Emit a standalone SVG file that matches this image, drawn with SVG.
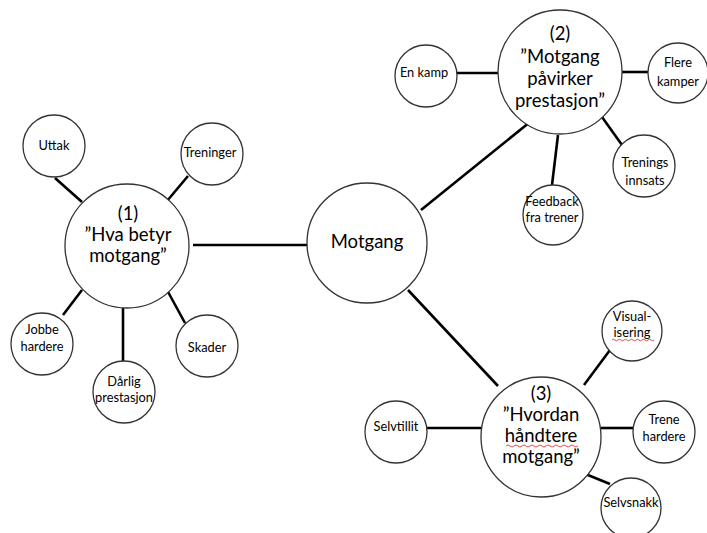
<svg xmlns="http://www.w3.org/2000/svg" width="707" height="533" viewBox="0 0 707 533">
<style>
.c{fill:#fff;stroke:#333;stroke-width:1.3}
.t{font-family:Lato,"Open Sans","Liberation Sans",sans-serif;fill:#000;text-anchor:middle}
.s{font-size:12.8px}
.h{font-size:18.5px}
.e{stroke:#000;stroke-width:2.6;fill:none}
.w{stroke:#d22;stroke-width:0.8;fill:none}
</style>
<rect width="707" height="533" fill="#fff"/>
<g id="connectors">
<line class="e" x1="193" y1="245" x2="307" y2="245"/>
<line class="e" x1="55" y1="178" x2="82" y2="202"/>
<line class="e" x1="188" y1="176" x2="167" y2="201"/>
<line class="e" x1="82" y1="290" x2="63" y2="315"/>
<line class="e" x1="123" y1="308" x2="123" y2="362"/>
<line class="e" x1="167" y1="290" x2="185" y2="323"/>
<line class="e" x1="421" y1="210" x2="530" y2="122"/>
<line class="e" x1="457" y1="73" x2="498" y2="73"/>
<line class="e" x1="622" y1="72" x2="648" y2="72"/>
<line class="e" x1="558" y1="135" x2="552" y2="185"/>
<line class="e" x1="602" y1="117" x2="627" y2="152"/>
<line class="e" x1="408" y1="290" x2="498" y2="386"/>
<line class="e" x1="584" y1="385" x2="610" y2="350"/>
<line class="e" x1="427" y1="428" x2="481" y2="428"/>
<line class="e" x1="601" y1="428" x2="633" y2="428"/>
<line class="e" x1="583" y1="473" x2="610" y2="484"/>
</g>
<g id="motgang">
<circle class="c" cx="367" cy="243" r="60"/>
<text class="t h" x="367" y="248">Motgang</text>
</g>
<g id="hub1">
<circle class="c" cx="127" cy="246" r="62"/>
<text class="t h"><tspan x="128" y="220">(1)</tspan><tspan x="128" y="241">”Hva betyr</tspan><tspan x="128" y="262">motgang”</tspan></text>
</g>
<g id="uttak">
<circle class="c" cx="54" cy="146" r="31"/>
<text class="t s" x="54" y="150">Uttak</text>
</g>
<g id="treninger">
<circle class="c" cx="212" cy="154" r="31"/>
<text class="t s" x="210" y="157">Treninger</text>
</g>
<g id="jobbe">
<circle class="c" cx="42" cy="344" r="31"/>
<text class="t s"><tspan x="42" y="334">Jobbe</tspan><tspan x="42" y="351">hardere</tspan></text>
</g>
<g id="darlig">
<circle class="c" cx="124" cy="392" r="31"/>
<text class="t s"><tspan x="124" y="386">Dårlig</tspan><tspan x="124" y="402">prestasjon</tspan></text>
</g>
<g id="skader">
<circle class="c" cx="207" cy="346" r="31"/>
<text class="t s" x="207" y="352">Skader</text>
</g>
<g id="hub2">
<circle class="c" cx="560" cy="72" r="62"/>
<text class="t h"><tspan x="560" y="40">(2)</tspan><tspan x="560" y="63">”Motgang</tspan><tspan x="560" y="85">påvirker</tspan><tspan x="560" y="107">prestasjon”</tspan></text>
</g>
<g id="enkamp">
<circle class="c" cx="426" cy="76" r="31"/>
<text class="t s" x="424" y="77">En kamp</text>
</g>
<g id="flere">
<circle class="c" cx="678" cy="73" r="30"/>
<text class="t s"><tspan x="678" y="67">Flere</tspan><tspan x="678" y="86">kamper</tspan></text>
</g>
<g id="feedback">
<circle class="c" cx="553" cy="215" r="30"/>
<text class="t s"><tspan x="552" y="206">Feedback</tspan><tspan x="552" y="222">fra trener</tspan></text>
</g>
<g id="trenings">
<circle class="c" cx="644" cy="166" r="31"/>
<text class="t s"><tspan x="645" y="167">Trenings</tspan><tspan x="645" y="185">innsats</tspan></text>
</g>
<g id="hub3">
<circle class="c" cx="541" cy="437" r="60"/>
<text class="t h"><tspan x="541" y="400">(3)</tspan><tspan x="541" y="421">”Hvordan</tspan><tspan x="541" y="442">håndtere</tspan><tspan x="541" y="463">motgang”</tspan></text>
<path class="w" d="M506 446 q2 -2 4 0 t4 0 t4 0 t4 0 t4 0 t4 0 t4 0 t4 0 t4 0 t4 0 t4 0 t4 0 t4 0 t4 0 t4 0 t4 0 t4 0 t4 0"/>
</g>
<g id="visual">
<circle class="c" cx="632" cy="331" r="30"/>
<text class="t s"><tspan x="632" y="321">Visual-</tspan><tspan x="632" y="337">isering</tspan></text>
<path class="w" d="M612 340 q1.5 -1.5 3 0 t3 0 t3 0 t3 0 t3 0 t3 0 t3 0 t3 0 t3 0 t3 0 t3 0 t3 0 t3 0 t3 0"/>
</g>
<g id="selvtillit">
<circle class="c" cx="396" cy="432" r="31"/>
<text class="t s" x="396" y="431">Selvtillit</text>
</g>
<g id="trene">
<circle class="c" cx="664" cy="432" r="31"/>
<text class="t s"><tspan x="664" y="424">Trene</tspan><tspan x="664" y="441">hardere</tspan></text>
</g>
<g id="selvsnakk">
<circle class="c" cx="631" cy="508" r="30"/>
<text class="t s" x="631" y="507">Selvsnakk</text>
</g>
</svg>
